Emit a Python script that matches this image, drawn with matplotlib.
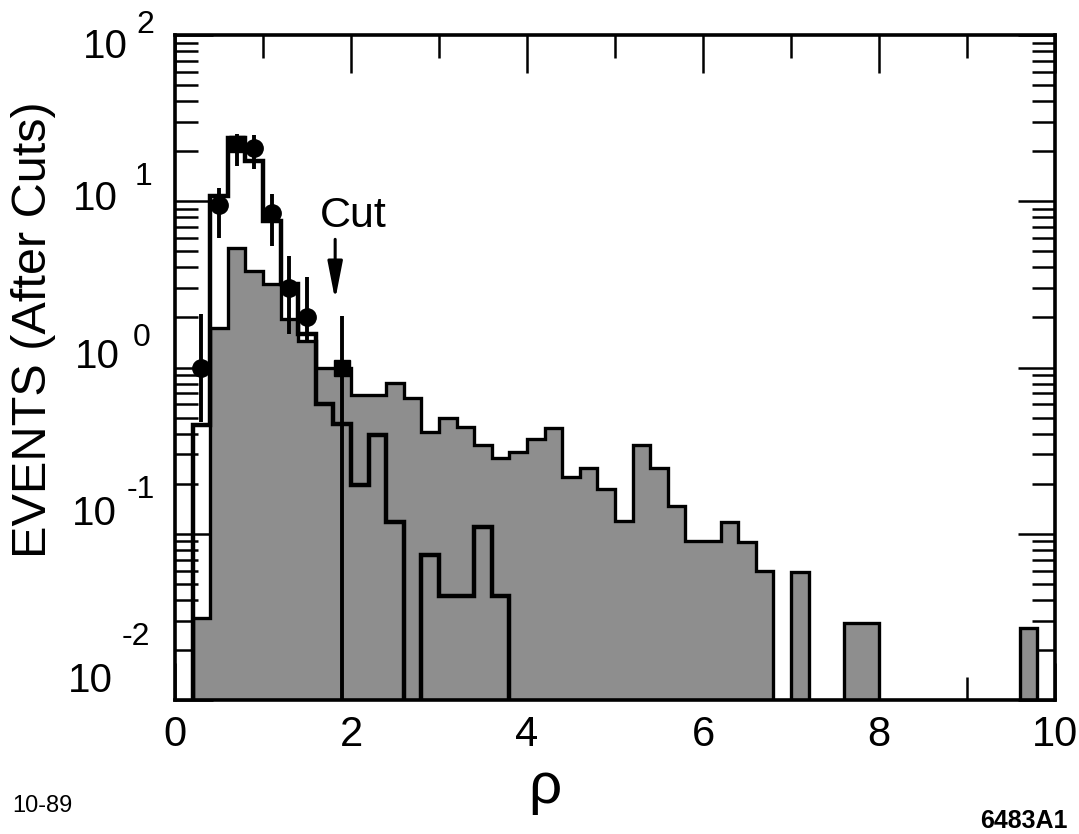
import numpy as np
import matplotlib
matplotlib.use("Agg")
import matplotlib.pyplot as plt
from matplotlib.ticker import FixedLocator, LogLocator, NullFormatter

plt.rcParams['font.family'] = ['Liberation Sans', 'DejaVu Sans']

# ---------------------------------------------------------------------------
# Data
# ---------------------------------------------------------------------------
rho_edges = np.linspace(0.0, 10.0, 51)          # 0.2 wide bins

# shaded histogram
background = [0, 0.031, 1.74, 5.2, 3.8, 3.2, 1.95, 1.45, 1.0, 1.0,
              0.68, 0.68, 0.81, 0.66, 0.41, 0.50, 0.44, 0.34, 0.285, 0.31,
              0.37, 0.43, 0.218, 0.25, 0.187, 0.119, 0.34, 0.25, 0.147, 0.090,
              0.090, 0.118, 0.089, 0.060, 0, 0.059, 0, 0, 0.029, 0.029,
              0, 0, 0, 0, 0, 0, 0, 0, 0.027, 0]

# open (thick line) histogram
signal = [0, 0.45, 10.7, 24.0, 17.4, 7.6, 3.2, 1.6, 0.6, 0.46,
          0.196, 0.39, 0.117, 0, 0.075, 0.042, 0.042, 0.11, 0.042, 0,
          0, 0, 0, 0, 0, 0, 0, 0, 0, 0,
          0, 0, 0, 0, 0, 0, 0, 0, 0, 0,
          0, 0, 0, 0, 0, 0, 0, 0, 0, 0]

# data points
data_x = [0.3, 0.5, 0.7, 0.9, 1.1, 1.3, 1.5, 1.9]
data_y = [1.0, 9.5, 22.0, 21.0, 8.5, 3.0, 2.0, 1.0]
data_hi = [2.1, 12.0, 25.5, 25.0, 11.0, 4.7, 3.5, 2.05]
data_lo = [0.47, 6.0, 16.2, 15.6, 5.4, 1.6, 1.4, 0.0]
data_marker = ['o', 'o', 's', 'o', 'o', 'o', 'o', 's']

cut_rho = 1.82

decades = [2, 1, 0, -1, -2]

# ---------------------------------------------------------------------------
# Figure
# ---------------------------------------------------------------------------
W, H = 1079, 834
fig = plt.figure(figsize=(W / 100, H / 100), dpi=100)
ax = fig.add_axes([175 / W, 1 - 700 / H, 880 / W, 665 / H])
ax.set_yscale('log')
ax.set_xlim(0, 10)
ax.set_ylim(1e-2, 1e2)

floor = 1e-4  # below the axis, so empty bins drop off the frame
bkg = np.where(np.array(background) > 0, background, floor)
sig = np.where(np.array(signal) > 0, signal, floor)

ax.stairs(bkg, rho_edges, baseline=floor, fill=True,
          facecolor='#8e8e8e', edgecolor='black', lw=2.4, zorder=2)
ax.stairs(sig, rho_edges, baseline=floor, fill=False,
          color='black', lw=3.2, zorder=3)

y = np.array(data_y)
lo = np.where(np.array(data_lo) > 0, data_lo, floor)
yerr = [y - lo, np.array(data_hi) - y]
ax.errorbar(data_x, data_y, yerr=yerr, fmt='none', ecolor='black',
            elinewidth=2.8, capsize=0, zorder=4)
for xv, yv, m in zip(data_x, data_y, data_marker):
    ax.plot(xv, yv, marker=m, color='black', ms=12.5 if m == 'o' else 11.5,
            ls='none', zorder=5)

# cut arrow
ax.annotate('', xy=(cut_rho, 2.55), xytext=(cut_rho, 5.9),
            arrowprops=dict(arrowstyle='-|>,head_length=2.3,head_width=0.45',
                            color='black', lw=2.2, shrinkA=0, shrinkB=0),
            zorder=6)
ax.text(2.03, 8.1, 'Cut', fontsize=31, ha='center', va='center', zorder=6)

# axes frame and ticks
for sp in ax.spines.values():
    sp.set_linewidth(2.6)
ax.xaxis.set_major_locator(FixedLocator([0, 2, 4, 6, 8, 10]))
ax.xaxis.set_minor_locator(FixedLocator([1, 3, 5, 7, 9]))
ax.yaxis.set_major_locator(LogLocator(base=10, numticks=10))
ax.yaxis.set_minor_locator(LogLocator(base=10, subs=np.arange(2, 10), numticks=20))
ax.yaxis.set_major_formatter(NullFormatter())
ax.yaxis.set_minor_formatter(NullFormatter())
ax.tick_params(which='both', direction='in', top=True, right=True, width=1.8)
ax.tick_params(which='major', length=27)
ax.tick_params(which='minor', length=16.5)
ax.tick_params(axis='x', which='major', labelsize=30, pad=11)

# y tick labels written as "10" with a large raised exponent
base_dx = [-47, -57, -55, -58, -62]
base_dy = [-12, 2, 11, 20, 19]
sup_dx = [-39, -40, -42, -48, -53]
sup_dy = [10, 24, 30, 44, 63]
for k, bx, by, sx, sy in zip(decades, base_dx, base_dy, sup_dx, sup_dy):
    ax.annotate('10', xy=(0, 10.0 ** k), xycoords=('axes fraction', 'data'),
                xytext=(bx, by), textcoords='offset pixels',
                ha='right', va='center', fontsize=29, annotation_clip=False)
    ax.annotate(str(k), xy=(0, 10.0 ** k),
                xycoords=('axes fraction', 'data'),
                xytext=(sx, sy), textcoords='offset pixels',
                ha='left', va='center', fontsize=23, annotation_clip=False)

fig.text(34 / W, 1 - 330 / H, 'EVENTS (After Cuts)', rotation=90,
         fontsize=35, ha='center', va='center')
fig.text(545 / W, 1 - 788 / H, '\u03c1', fontsize=42, ha='center', va='center')
fig.text(12 / W, 1 - 812 / H, '10-89', fontsize=17, ha='left', va='baseline')
fig.text(1068 / W, 1 - 828 / H, '6483A1', fontsize=18, fontweight='bold',
         ha='right', va='baseline')

fig.savefig('out.png', dpi=100)
